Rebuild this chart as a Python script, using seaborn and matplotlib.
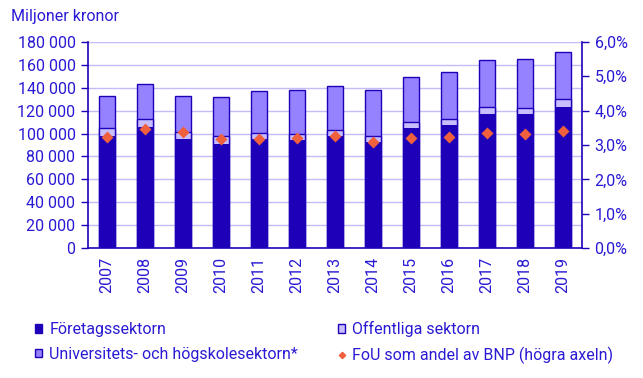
import matplotlib
matplotlib.use("Agg")
import matplotlib.pyplot as plt
import seaborn as sns
import pandas as pd
import numpy as np
from matplotlib.ticker import FuncFormatter, FixedLocator
from matplotlib.patches import Patch
from matplotlib.lines import Line2D

years = ["2007", "2008", "2009", "2010", "2011", "2012", "2013",
         "2014", "2015", "2016", "2017", "2018", "2019"]
foretag = [97800, 105700, 95200, 90900, 95000, 94100, 97800,
           92600, 104800, 107100, 117000, 117000, 122800]
offentliga = [6700, 6700, 5800, 6700, 5700, 5700, 5000,
              5000, 5000, 5300, 5800, 5500, 7500]
universitet = [28400, 30400, 31900, 34500, 36100, 37800, 38300,
               40000, 39200, 40900, 41000, 42100, 40400]
andel_bnp = [3.24, 3.46, 3.38, 3.17, 3.17, 3.20, 3.26,
             3.09, 3.20, 3.23, 3.35, 3.32, 3.40]

labels = ["Företagssektorn", "Offentliga sektorn",
          "Universitets- och högskolesektorn*",
          "FoU som andel av BNP (högra axeln)"]

C_DARK = "#1f00b9"
C_OFF = "#c7bdff"
C_UNI = "#9582ff"
C_MARK = "#f0603c"
C_TEXT = "#2a1ad4"
C_GRID = "#c4bcf7"

sns.set_theme(style="white")
plt.rcParams["font.family"] = ["Roboto", "DejaVu Sans"]

df = pd.DataFrame({
    "year": years,
    "f": foretag,
    "fo": np.array(foretag) + np.array(offentliga),
    "tot": np.array(foretag) + np.array(offentliga) + np.array(universitet),
    "pct": andel_bnp,
})

fig = plt.figure(figsize=(6.43, 3.78), dpi=100)
ax = fig.add_axes([88 / 643, 1 - 248.3 / 378, (582 - 88) / 643, (248.3 - 41.7) / 378])

for y in range(20000, 180001, 20000):
    ax.axhline(y, color=C_GRID, lw=1.0, zorder=0)

sns.barplot(data=df, x="year", y="tot", color=C_UNI, saturation=1, width=0.4,
            edgecolor=C_DARK, linewidth=1.0, ax=ax, zorder=2)
sns.barplot(data=df, x="year", y="fo", color=C_OFF, saturation=1, width=0.4,
            edgecolor=C_DARK, linewidth=1.0, ax=ax, zorder=3)
sns.barplot(data=df, x="year", y="f", color=C_DARK, saturation=1, width=0.4,
            edgecolor=C_DARK, linewidth=0, ax=ax, zorder=4)

ax.set_ylim(0, 180000)
ax.set_xlim(-0.5, len(years) - 0.5)
ax.set_yticks(range(0, 180001, 20000))
ax.yaxis.set_major_formatter(FuncFormatter(lambda v, p: f"{int(v):,}".replace(",", " ")))
ax.set_xlabel("")
ax.set_ylabel("")
ax.set_xticks(range(len(years)))
ax.set_xticklabels(years, rotation=90)
ax.xaxis.set_minor_locator(FixedLocator(np.arange(-0.5, len(years), 1.0)))
ax.tick_params(axis="x", which="major", length=0, pad=6, labelsize=11.5, labelcolor=C_TEXT)
ax.tick_params(axis="x", which="minor", length=5, width=1, color=C_DARK, direction="out")
ax.tick_params(axis="y", length=5, width=1, color=C_DARK, direction="out",
               labelsize=11.5, labelcolor=C_TEXT, pad=4)
for s in ["top", "right"]:
    ax.spines[s].set_visible(False)
for s in ["left", "bottom"]:
    ax.spines[s].set_color(C_DARK)
    ax.spines[s].set_linewidth(1.2)

ax2 = ax.twinx()
sns.pointplot(data=df, x="year", y="pct", color=C_MARK, markers="D",
              linestyle="none", ax=ax2, markersize=4, zorder=6)
ax2.set_ylim(0, 6)
ax2.set_xlim(-0.5, len(years) - 0.5)
ax2.set_yticks(np.arange(0, 6.01, 1.0))
ax2.yaxis.set_major_formatter(FuncFormatter(lambda v, p: f"{v:.1f}%".replace(".", ",")))
ax2.set_ylabel("")
ax2.set_xlabel("")
ax2.tick_params(axis="y", length=5, width=1, color=C_DARK, direction="out",
                labelsize=11.5, labelcolor=C_TEXT, pad=4)
for s in ["top", "left", "bottom"]:
    ax2.spines[s].set_visible(False)
ax2.spines["right"].set_color(C_DARK)
ax2.spines["right"].set_linewidth(1.2)
ax2.grid(False)

fig.text(11 / 643, 1 - 16 / 378, "Miljoner kronor", color=C_TEXT, fontsize=11.5,
         ha="left", va="center")

handles = [
    Patch(facecolor=C_DARK, edgecolor=C_DARK, label=labels[0]),
    Patch(facecolor=C_UNI, edgecolor=C_DARK, label=labels[2]),
    Patch(facecolor=C_OFF, edgecolor=C_DARK, label=labels[1]),
    Line2D([], [], marker="D", color=C_MARK, linestyle="none", markersize=3.2, label=labels[3]),
]
leg = fig.legend(handles=handles, ncol=2, loc="upper left",
                 bbox_to_anchor=(35 / 643, 1 - 321 / 378), frameon=False,
                 fontsize=11.5, handlelength=0.45, handleheight=0.45, handletextpad=0.45,
                 columnspacing=2.5, labelspacing=0.6, borderpad=0, borderaxespad=0)
for t in leg.get_texts():
    t.set_color(C_TEXT)

fig.savefig("out.png", dpi=100)
